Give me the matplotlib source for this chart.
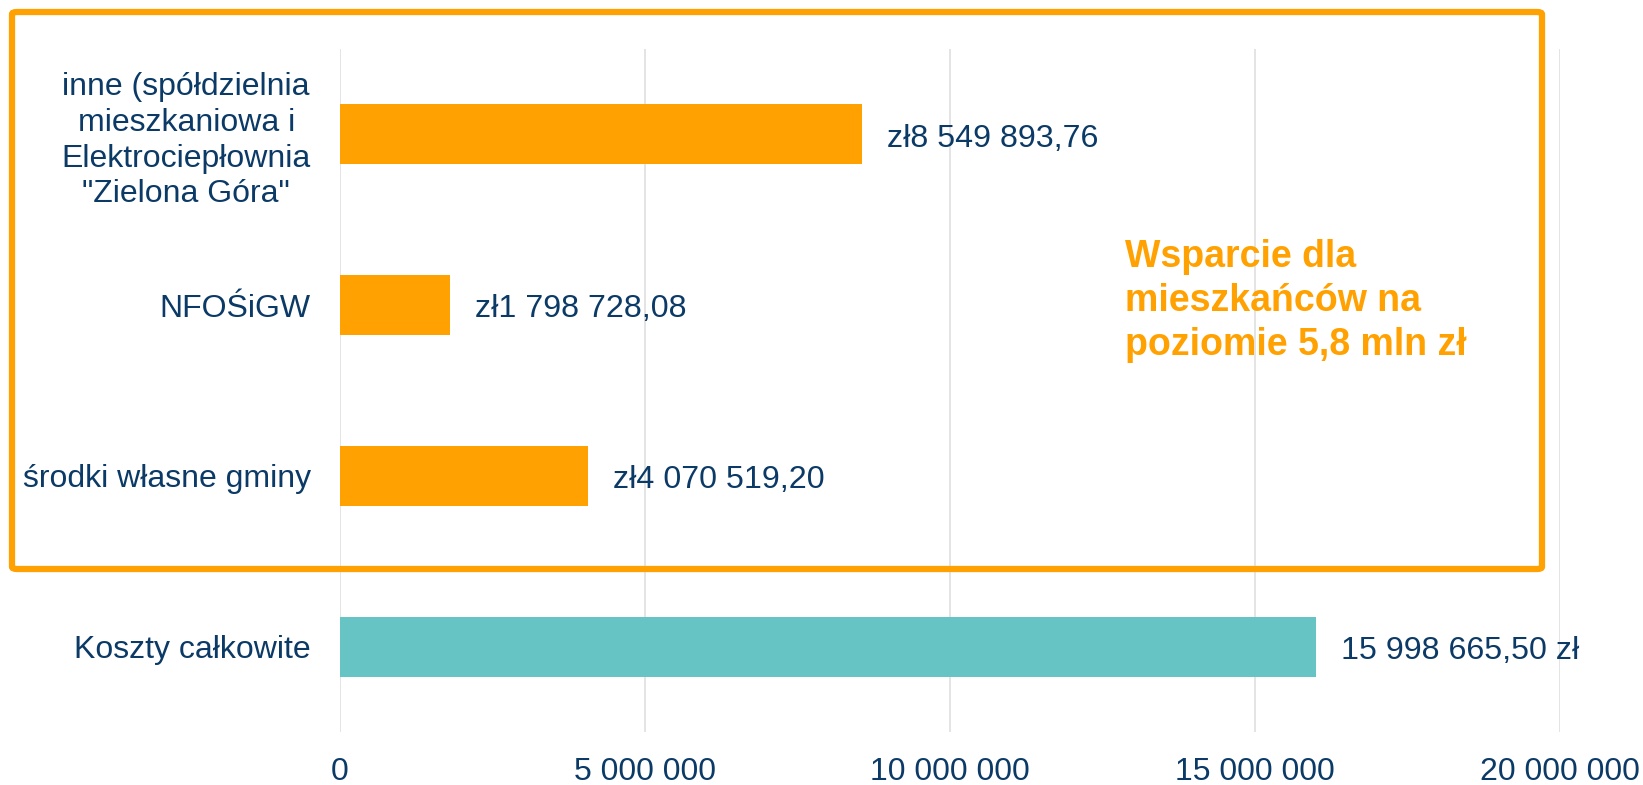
import numpy as np
import matplotlib as mpl
import matplotlib.pyplot as plt
from matplotlib.patches import FancyBboxPatch
from matplotlib.ticker import FuncFormatter

# data (PLN), top to bottom
categories = ['inne (spółdzielnia\nmieszkaniowa i\nElektrociepłownia\n"Zielona Góra"',
              'NFOŚiGW',
              'środki własne gminy',
              'Koszty całkowite']
values = [8549893.76, 1798728.08, 4070519.20, 15998665.50]
currency_first = [True, True, True, False]
xticks = [0, 5000000, 10000000, 15000000, 20000000]
note = 'Wsparcie dla\nmieszkańców na\npoziomie 5,8 mln zł'

ORANGE = '#ffa100'
TEAL = '#66c4c5'
NAVY = '#0b3a66'
GRID = '#e4e4e4'


def spaced(v, decimals=0):
    s = f'{v:,.{decimals}f}'
    return s.replace(',', ' ').replace('.', ',')


def pln(v, prefix):
    return ('zł' + spaced(v, 2)) if prefix else (spaced(v, 2) + ' zł')


mpl.rc('font', family=['Liberation Sans', 'DejaVu Sans'])

fig = plt.figure(figsize=(16.43, 7.85), dpi=100)
ax = fig.add_axes([340 / 1643, 1 - 732 / 785, 1220 / 1643, 683 / 785])

ypos = np.arange(len(categories))
colors = [ORANGE, ORANGE, ORANGE, TEAL]
ax.barh(ypos, values, height=0.35, color=colors, zorder=2)

for y, v, pre in zip(ypos, values, currency_first):
    ax.annotate(pln(v, pre), xy=(v, y), xytext=(18, -3), textcoords='offset points',
                va='center', ha='left', fontsize=23.2, color=NAVY)

ax.set_ylim(-0.5, len(categories) - 0.5)
ax.invert_yaxis()
ax.set_xlim(0, 20000000)
ax.set_xticks(xticks)
ax.xaxis.set_major_formatter(FuncFormatter(lambda v, p: spaced(v)))
ax.set_yticks(ypos)
ax.set_yticklabels(categories, multialignment='center', linespacing=1.25)

ax.tick_params(axis='x', length=0, pad=18, labelsize=23, labelcolor=NAVY)
ax.tick_params(axis='y', length=0, pad=21, labelsize=23, labelcolor=NAVY)
ax.grid(axis='x', color=GRID, linewidth=1.4, zorder=0)
for s in ax.spines.values():
    s.set_visible(False)

# orange frame around the resident-support part
frame = FancyBboxPatch((12 / 1643, 1 - 569 / 785), 1530 / 1643, 557 / 785,
                       boxstyle='round,pad=0,rounding_size=0.003',
                       transform=fig.transFigure, fill=False,
                       edgecolor=ORANGE, linewidth=4.5, zorder=5)
fig.patches.append(frame)

fig.text(1125 / 1643, 1 - 301 / 785, note, ha='left', va='center',
         fontsize=27, fontweight='bold', color=ORANGE, linespacing=1.27)

fig.savefig('out.png', dpi=100)
